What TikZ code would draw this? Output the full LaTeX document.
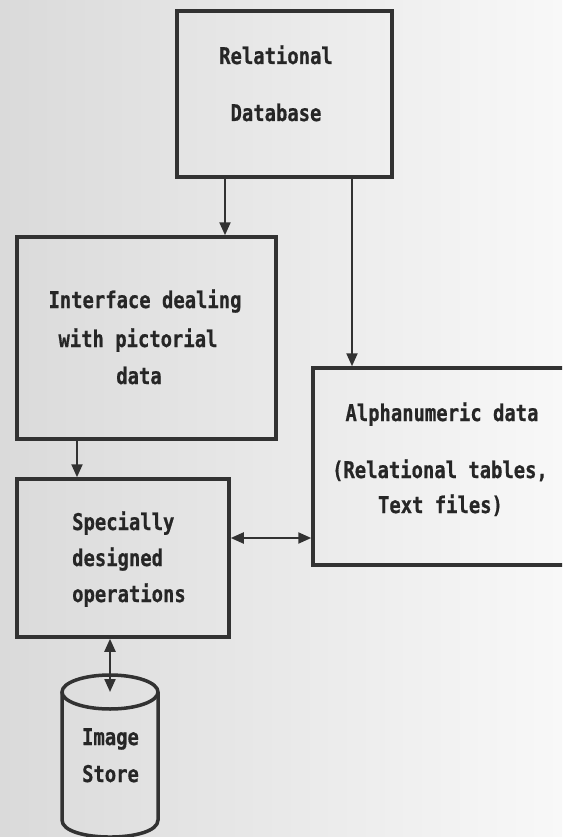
\documentclass[tikz,border=0pt]{standalone}
\usepackage{fontspec}
\newfontfamily\dotfont[FakeStretch=0.82,FakeBold=0.6]{DejaVu Sans Mono}
\usetikzlibrary{arrows.meta}
\definecolor{linec}{RGB}{50,50,50}
\definecolor{textc}{RGB}{38,38,38}
\definecolor{bgl}{RGB}{218,218,218}
\definecolor{bgr}{RGB}{248,248,248}
\begin{document}
\begin{tikzpicture}[x=1pt,y=-1pt,
  box/.style={draw=linec, line width=3.5pt, inner sep=0pt},
  conn/.style={draw=linec, line width=2.2pt, -{Triangle[length=13pt,width=11pt]}},
  dconn/.style={draw=linec, line width=2.2pt, {Triangle[length=13pt,width=11pt]}-{Triangle[length=13pt,width=11pt]}},
  lbl/.style={font=\dotfont\bfseries\fontsize{23}{28}\selectfont, text=textc, inner sep=0pt, anchor=base},
  lbll/.style={lbl, anchor=base west}]
\clip (0,0) rectangle (562,837);
\shade[left color=bgl, right color=bgr] (0,0) rectangle (562,837);

% boxes
\node[box, minimum width=215pt, minimum height=166pt] (rdb) at (284.5,94) {};
\node[box, minimum width=259pt, minimum height=202pt] (iface) at (146.5,338) {};
\node[box, minimum width=212pt, minimum height=158pt] (spec) at (123,558) {};
\node[box, minimum width=307pt, minimum height=197pt] (alpha) at (466.5,466.5) {};

% cylinder
\draw[linec, line width=3.5pt] (110,692) ellipse [x radius=48, y radius=17];
\draw[linec, line width=3.5pt] (62,692) -- (62,820) .. controls (62,842.7) and (158,842.7) .. (158,820) -- (158,692);
\coordinate (cyltop) at (110,692);

% labels
\node[lbl] (r1) at (276,64) {Relational};
\node[lbl] (r2) at (276,121) {Database};
\node[lbl] (i1) at (145,308) {Interface dealing};
\node[lbl] (i2) at (138,347) {with pictorial};
\node[lbl] (i3) at (139,384) {data};
\node[lbll] (s1) at (72,530) {Specially};
\node[lbll] (s2) at (72,566) {designed};
\node[lbll] (s3) at (72,602) {operations};
\node[lbl] (a1) at (442,421) {Alphanumeric data};
\node[lbl] (a2) at (440,478) {(Relational tables,};
\node[lbl] (a3) at (440.5,513) {Text files)};
\node[lbl] (c1) at (110.5,745) {Image};
\node[lbl] (c2) at (110.5,782) {Store};

% connector positions
\coordinate (xA) at (225,0);
\coordinate (xB) at (352,0);
\coordinate (xC) at (77,0);
\coordinate (yD) at (0,538);

\draw[conn] (rdb.south -| xA) -- (iface.north -| xA);
\draw[conn] (rdb.south -| xB) -- (alpha.north -| xB);
\draw[conn] (iface.south -| xC) -- (spec.north -| xC);
\draw[dconn] (spec.east |- yD) -- (alpha.west |- yD);
\draw[dconn] (spec.south -| cyltop) -- (cyltop);
\end{tikzpicture}
\end{document}
